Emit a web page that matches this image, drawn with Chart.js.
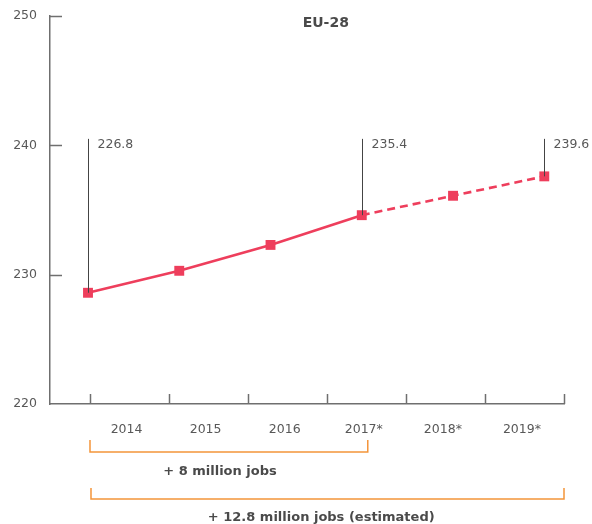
<!DOCTYPE html>
<html>
<head>
<meta charset="utf-8">
<script src="https://cdn.jsdelivr.net/npm/chart.js@4"></script>
<style>
  html, body { margin: 0; padding: 0; background: #fff; }
  canvas { display: block; }
</style>
</head>
<body>
<canvas id="c" width="592" height="524"></canvas>
<script>
// ---- data ----
const years = ['2014', '2015', '2016', '2017*', '2018*', '2019*'];
const employment = [228.6, 230.3, 232.3, 234.6, 236.1, 237.6];   // millions, EU-28
const projectedFrom = 3;                       // dashed from 2017 onward
const yTickValues = [220, 230, 240, 250];
const calloutIndex = [0, 3, 5];
const calloutLabels = ['226.8', '235.4', '239.6'];
const calloutTop = 240.5;
const bracketLabels = ['+ 8 million jobs', '+ 12.8 million jobs (estimated)'];
const titleText = 'EU-28';

const RED = '#ee3e5c';
const ORANGE = '#f4953a';
const AXIS = '#6f6f6f';
const TEXT = '#585858';
const FONT = '"DejaVu Sans", "Open Sans", sans-serif';

const decor = {
  id: 'decor',
  afterDatasetsDraw(chart) {
    const ctx = chart.ctx;
    const xs = chart.scales.x, y = chart.scales.y;
    const area = chart.chartArea;
    const meta = chart.getDatasetMeta(0);
    ctx.save();
    // axis tick marks (inward)
    ctx.strokeStyle = AXIS;
    ctx.lineWidth = 1.5;
    xs.ticks.forEach(t => {
      const px = Math.round(xs.getPixelForValue(t.value)) + 0.5;
      ctx.beginPath(); ctx.moveTo(px, area.bottom); ctx.lineTo(px, area.bottom - 10); ctx.stroke();
    });
    y.ticks.forEach(t => {
      if (t.value === y.min) return;
      const py = Math.round(y.getPixelForValue(t.value)) + 0.5;
      ctx.beginPath(); ctx.moveTo(area.left, py); ctx.lineTo(area.left + 12, py); ctx.stroke();
    });
    // callouts
    ctx.strokeStyle = '#444';
    ctx.lineWidth = 1;
    ctx.fillStyle = TEXT;
    ctx.font = '12.5px ' + FONT;
    ctx.textAlign = 'left';
    ctx.textBaseline = 'middle';
    const topPx = y.getPixelForValue(calloutTop);
    calloutIndex.forEach((idx, k) => {
      const pt = meta.data[idx];
      const px = Math.round(pt.x) + 0.5;
      ctx.beginPath(); ctx.moveTo(px, topPx); ctx.lineTo(px, pt.y); ctx.stroke();
      ctx.fillText(calloutLabels[k], px + 9, topPx + 6);
    });
    // title
    ctx.font = 'bold 14px ' + FONT;
    ctx.fillStyle = '#4a4a4a';
    ctx.textAlign = 'center';
    ctx.fillText(titleText, xs.getPixelForValue(3) - 1, 23);
    // brackets
    const bx0 = meta.data[0].x + 2;
    const brk = [
      { x0: bx0, x1: meta.data[projectedFrom].x + 6, top: area.bottom + 36, line: area.bottom + 48, text: area.bottom + 68, tx: xs.getPixelForValue(1.65) },
      { x0: bx0 + 1, x1: area.right, top: area.bottom + 84, line: area.bottom + 95, text: area.bottom + 114, tx: xs.getPixelForValue(2.93) }
    ];
    ctx.strokeStyle = ORANGE;
    ctx.lineWidth = 1.5;
    brk.forEach((b, k) => {
      ctx.beginPath();
      ctx.moveTo(b.x0, b.top); ctx.lineTo(b.x0, b.line); ctx.lineTo(b.x1, b.line); ctx.lineTo(b.x1, b.top);
      ctx.stroke();
      ctx.fillStyle = '#4a4a4a';
      ctx.font = 'bold 13px ' + FONT;
      ctx.textAlign = 'center';
      ctx.fillText(bracketLabels[k], b.tx, b.text);
    });
    ctx.restore();
  }
};

new Chart(document.getElementById('c'), {
  type: 'line',
  data: {
    datasets: [{
      data: employment.map((v, i) => ({ x: i, y: v })),
      xAxisID: 'xp',
      yAxisID: 'y',
      borderColor: RED,
      backgroundColor: RED,
      borderWidth: 2.6,
      pointStyle: 'rect',
      pointRadius: 7,
      pointHoverRadius: 7,
      pointBorderWidth: 0,
      tension: 0,
      segment: {
        borderDash: c => c.p0DataIndex >= projectedFrom ? [8, 5] : undefined
      }
    }]
  },
  options: {
    responsive: false,
    animation: false,
    events: [],
    layout: { padding: { top: 16, right: 28, left: 0, bottom: 0 } },
    plugins: { legend: { display: false }, tooltip: { enabled: false }, title: { display: false } },
    scales: {
      xp: {
        type: 'linear', display: false, min: -0.4164, max: 5.216
      },
      x: {
        type: 'linear', position: 'bottom', min: -0.5, max: 6,
        afterBuildTicks: s => { s.ticks = [0, 1, 2, 3, 4, 5, 6].map(v => ({ value: v })); },
        afterFit: s => { s.height = 120; },
        grid: { display: false, drawTicks: true, tickLength: 8 },
        border: { display: true, color: AXIS, width: 1.5 },
        ticks: {
          autoSkip: false, maxRotation: 0, padding: 10, labelOffset: 37,
          color: TEXT, font: { family: FONT, size: 12.5 },
          callback: v => years[v] !== undefined ? years[v] : ''
        }
      },
      y: {
        type: 'linear', min: 220, max: 250,
        afterBuildTicks: s => { s.ticks = yTickValues.map(v => ({ value: v })); },
        afterFit: s => { s.width = 50; },
        grid: { display: false, drawTicks: true, tickLength: 8 },
        border: { display: true, color: AXIS, width: 1.5 },
        ticks: { padding: 5, color: TEXT, font: { family: FONT, size: 12.5 } }
      }
    }
  },
  plugins: [decor]
});
</script>
</body>
</html>
